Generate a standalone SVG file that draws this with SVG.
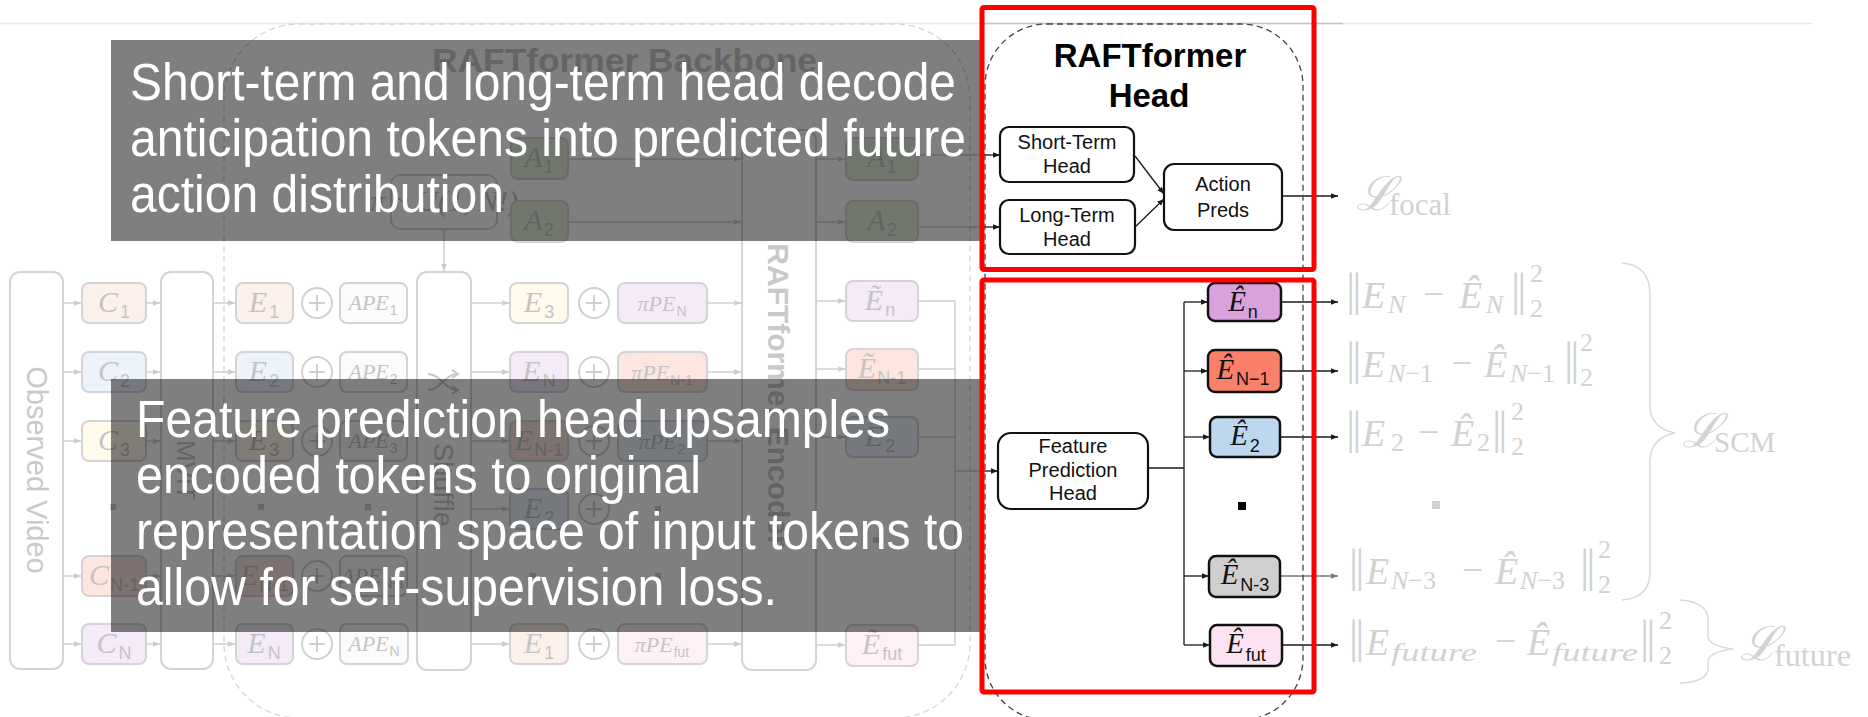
<svg xmlns="http://www.w3.org/2000/svg" width="1868" height="717" viewBox="0 0 1868 717">
  <style>
    .fb { stroke: #d4d4d4; stroke-width: 2; }
    .pe { fill: #fcf1ea; } .bl { fill: #edf3fa; } .ye { fill: #fffaea; }
    .rd { fill: #fde5e0; } .pu { fill: #f5ebf8; } .pk { fill: #fdf1f6; }
    .gr { fill: #e3eedb; } .wh { fill: #fbfbfb; }
    .ft { font-family: "Liberation Sans", Arial, sans-serif; fill: #c9c9c9; }
    .lab { text-anchor: middle; }
    .mi { font-family: "Liberation Serif", "DejaVu Serif", serif; font-style: italic; font-size: 30px; fill: #c4c4c4; }
    .sb { font-family: "Liberation Sans", Arial, sans-serif; font-size: 18px; fill: #c4c4c4; }
    .mis { font-family: "Liberation Serif", serif; font-style: italic; font-size: 22px; fill: #c4c4c4; }
    .sbs { font-family: "Liberation Sans", Arial, sans-serif; font-size: 14px; fill: #c4c4c4; }
    .fl { stroke: #d0d0d0; stroke-width: 1.5; fill: none; }
    .dl { stroke: #1a1a1a; stroke-width: 1.3; fill: none; }
    .plus circle { fill: #fff; stroke: #d0d0d0; stroke-width: 2; }
    .plus path { stroke: #d0d0d0; stroke-width: 2; fill: none; }
    .dot { fill: #cccccc; }
    .hb { fill: #fff; stroke: #111; stroke-width: 2.2; }
    .eb { stroke: #111; stroke-width: 2.5; }
    .ht { font-family: "Liberation Sans", Arial, sans-serif; font-size: 20px; fill: #111; text-anchor: middle; }
    .hm { font-family: "Liberation Serif", "DejaVu Serif", serif; font-style: italic; font-size: 29px; fill: #111; }
    .hs { font-family: "Liberation Sans", Arial, sans-serif; font-size: 18px; fill: #111; }
    .loss { font-family: "Liberation Serif", "DejaVu Serif", serif; fill: #d2d2d2; font-size: 38px; }
    .li { font-style: italic; }
    .ls { font-size: 26px; }
    .bar { font-size: 46px; letter-spacing: -3px; font-style: normal; }
    .cal { fill: #000; fill-opacity: 0.5; }
    .calt { font-family: "Liberation Sans", Arial, sans-serif; font-size: 51px; fill: #fff; }
    .hl { fill: none; stroke: #ff0000; stroke-width: 5; }
  </style>
  <defs>
    <marker id="ah" viewBox="0 0 10 10" refX="10" refY="5" markerWidth="7" markerHeight="7" markerUnits="userSpaceOnUse" orient="auto">
      <path d="M0,1 L10,5 L0,9 z" fill="#1a1a1a"/>
    </marker>
    <marker id="ahf" viewBox="0 0 10 10" refX="10" refY="5" markerWidth="7" markerHeight="7" markerUnits="userSpaceOnUse" orient="auto">
      <path d="M0,1 L10,5 L0,9 z" fill="#cccccc"/>
    </marker>
    <marker id="ahg" viewBox="0 0 10 10" refX="10" refY="5" markerWidth="7" markerHeight="7" markerUnits="userSpaceOnUse" orient="auto">
      <path d="M0,1 L10,5 L0,9 z" fill="#777"/>
    </marker>
  </defs>

  <rect width="1868" height="717" fill="#fff"/>
  <!-- page rule -->
  <line x1="0" y1="23.5" x2="1813" y2="23.5" stroke="#e8e8e8" stroke-width="1.5"/>
  <line x1="980" y1="23.5" x2="1343" y2="23.5" stroke="#c4c4c4" stroke-width="1.5"/>

  <!-- ===== backbone (faded) ===== -->
  <g id="backbone-frame">
    <rect x="224" y="24" width="746" height="694" rx="75" fill="none" stroke="#d6d6d6" stroke-width="1.3" stroke-dasharray="6 4"/>
    <text class="ft" x="432" y="72" font-size="33" font-weight="bold" fill="#b5b5b5" textLength="385" lengthAdjust="spacingAndGlyphs">RAFTformer Backbone</text>
  </g>

  <g id="observed-video">
    <rect class="fb" fill="#fff" x="10" y="272" width="53" height="397" rx="10"/>
    <text class="ft" font-size="29" text-anchor="middle" transform="translate(27,470) rotate(90)">Observed Video</text>
  </g>

  <g id="c1"><rect class="fb pe" x="82" y="283" width="64" height="40" rx="7"/><text class="lab" x="114" y="312"><tspan class="mi">C</tspan><tspan class="sb" dx="2" dy="6">1</tspan></text></g>
  <g id="c2"><rect class="fb bl" x="82" y="352" width="64" height="40" rx="7"/><text class="lab" x="114" y="381"><tspan class="mi">C</tspan><tspan class="sb" dx="2" dy="6">2</tspan></text></g>
  <g id="c3"><rect class="fb ye" x="82" y="421" width="64" height="40" rx="7"/><text class="lab" x="114" y="450"><tspan class="mi">C</tspan><tspan class="sb" dx="2" dy="6">3</tspan></text></g>
  <rect class="dot" x="110" y="504" width="6" height="6"/>
  <g id="c-n1"><rect class="fb rd" x="82" y="556" width="64" height="40" rx="7"/><text class="lab" x="114" y="585"><tspan class="mi">C</tspan><tspan class="sb" dx="1" dy="6">N-1</tspan></text></g>
  <g id="c-n"><rect class="fb pu" x="82" y="624" width="64" height="40" rx="7"/><text class="lab" x="114" y="653"><tspan class="mi">C</tspan><tspan class="sb" dx="2" dy="6">N</tspan></text></g>

  <g id="mvit">
    <rect class="fb" fill="#fff" x="161" y="272" width="52" height="397" rx="10"/>
    <text class="ft" font-size="26" text-anchor="middle" transform="translate(177,470) rotate(90)">MViT</text>
  </g>

  <!-- input tokens with absolute position embeddings -->
  <g id="e1"><rect class="fb pe" x="236" y="283" width="57" height="40" rx="7"/><text class="lab" x="264" y="312"><tspan class="mi">E</tspan><tspan class="sb" dx="2" dy="6">1</tspan></text></g>
  <g id="e2"><rect class="fb bl" x="236" y="352" width="57" height="40" rx="7"/><text class="lab" x="264" y="381"><tspan class="mi">E</tspan><tspan class="sb" dx="2" dy="6">2</tspan></text></g>
  <g id="e3"><rect class="fb ye" x="236" y="421" width="57" height="40" rx="7"/><text class="lab" x="264" y="450"><tspan class="mi">E</tspan><tspan class="sb" dx="2" dy="6">3</tspan></text></g>
  <rect class="dot" x="258" y="504" width="6" height="6"/>
  <g id="e-n1"><rect class="fb rd" x="236" y="556" width="57" height="40" rx="7"/><text class="lab" x="264" y="585"><tspan class="mi">E</tspan><tspan class="sb" dx="1" dy="6">N-1</tspan></text></g>
  <g id="e-n"><rect class="fb pu" x="236" y="624" width="57" height="40" rx="7"/><text class="lab" x="264" y="653"><tspan class="mi">E</tspan><tspan class="sb" dx="2" dy="6">N</tspan></text></g>

  <g class="plus"><circle cx="317" cy="303" r="15"/><path d="M309,303h16M317,295v16"/></g>
  <g class="plus"><circle cx="317" cy="372" r="15"/><path d="M309,372h16M317,364v16"/></g>
  <g class="plus"><circle cx="317" cy="441" r="15"/><path d="M309,441h16M317,433v16"/></g>
  <g class="plus"><circle cx="317" cy="576" r="15"/><path d="M309,576h16M317,568v16"/></g>
  <g class="plus"><circle cx="317" cy="644" r="15"/><path d="M309,644h16M317,636v16"/></g>

  <g id="ape1"><rect class="fb wh" x="340" y="283" width="67" height="40" rx="7"/><text class="lab" x="373" y="310"><tspan class="mis">APE</tspan><tspan class="sbs" dx="1" dy="5">1</tspan></text></g>
  <g id="ape2"><rect class="fb wh" x="340" y="352" width="67" height="40" rx="7"/><text class="lab" x="373" y="379"><tspan class="mis">APE</tspan><tspan class="sbs" dx="1" dy="5">2</tspan></text></g>
  <g id="ape3"><rect class="fb wh" x="340" y="421" width="67" height="40" rx="7"/><text class="lab" x="373" y="448"><tspan class="mis">APE</tspan><tspan class="sbs" dx="1" dy="5">3</tspan></text></g>
  <rect class="dot" x="365" y="504" width="6" height="6"/>
  <g id="ape-n1"><rect class="fb wh" x="340" y="556" width="67" height="40" rx="7"/><text class="lab" x="373" y="583"><tspan class="mis">APE</tspan><tspan class="sbs" dx="1" dy="5">N-1</tspan></text></g>
  <g id="ape-n"><rect class="fb wh" x="340" y="624" width="68" height="40" rx="7"/><text class="lab" x="374" y="651"><tspan class="mis">APE</tspan><tspan class="sbs" dx="1" dy="5">N</tspan></text></g>

  <g id="perm">
    <rect class="fb" fill="#fff" x="391" y="175" width="106" height="54" rx="9"/>
    <text class="lab" x="444" y="211"><tspan class="mi" font-size="26">π</tspan><tspan class="mi" font-size="26"> ~ U(1, N!)</tspan></text>
  </g>

  <g id="shuffle">
    <rect class="fb" fill="#fff" x="417" y="272" width="54" height="398" rx="10"/>
    <path d="M428,374 C440,374 446,390 456,390 M428,390 C440,390 446,374 456,374" fill="none" stroke="#c8c8c8" stroke-width="2"/>
    <path d="M452,370 L458,374 L452,378 M452,386 L458,390 L452,394" fill="none" stroke="#c8c8c8" stroke-width="2"/>
    <text class="ft" font-size="27" text-anchor="middle" transform="translate(434,485) rotate(90)">Shuffle</text>
  </g>

  <!-- anticipation tokens fed to the encoder -->
  <g id="a1-in"><rect class="fb gr" x="511" y="138" width="57" height="41" rx="7"/><text class="lab" x="539" y="167"><tspan class="mi">A</tspan><tspan class="sb" dx="1" dy="6">1</tspan></text></g>
  <g id="a2-in"><rect class="fb gr" x="511" y="201" width="57" height="41" rx="7"/><text class="lab" x="539" y="230"><tspan class="mi">A</tspan><tspan class="sb" dx="1" dy="6">2</tspan></text></g>

  <!-- shuffled tokens with permuted position embeddings -->
  <g id="s-e3"><rect class="fb ye" x="510" y="283" width="58" height="40" rx="7"/><text class="lab" x="539" y="312"><tspan class="mi">E</tspan><tspan class="sb" dx="2" dy="6">3</tspan></text></g>
  <g id="s-en"><rect class="fb pu" x="510" y="352" width="58" height="40" rx="7"/><text class="lab" x="539" y="381"><tspan class="mi">E</tspan><tspan class="sb" dx="2" dy="6">N</tspan></text></g>
  <g id="s-en1"><rect class="fb rd" x="510" y="421" width="58" height="40" rx="7"/><text class="lab" x="539" y="450"><tspan class="mi">E</tspan><tspan class="sb" dx="1" dy="6">N-1</tspan></text></g>
  <g id="s-e2"><rect class="fb bl" x="510" y="489" width="58" height="40" rx="7"/><text class="lab" x="539" y="518"><tspan class="mi">E</tspan><tspan class="sb" dx="2" dy="6">2</tspan></text></g>
  <rect class="dot" x="530" y="573" width="6" height="6"/>
  <g id="s-e1"><rect class="fb pe" x="510" y="624" width="58" height="40" rx="7"/><text class="lab" x="539" y="653"><tspan class="mi">E</tspan><tspan class="sb" dx="2" dy="6">1</tspan></text></g>

  <g class="plus"><circle cx="594" cy="303" r="15"/><path d="M586,303h16M594,295v16"/></g>
  <g class="plus"><circle cx="594" cy="372" r="15"/><path d="M586,372h16M594,364v16"/></g>
  <g class="plus"><circle cx="594" cy="441" r="15"/><path d="M586,441h16M594,433v16"/></g>
  <g class="plus"><circle cx="594" cy="509" r="15"/><path d="M586,509h16M594,501v16"/></g>
  <g class="plus"><circle cx="594" cy="644" r="15"/><path d="M586,644h16M594,636v16"/></g>

  <g id="ppe-n"><rect class="fb pu" x="618" y="283" width="89" height="40" rx="7"/><text class="lab" x="662" y="311"><tspan class="mis" font-size="25">πPE</tspan><tspan class="sbs" font-size="16" dx="1" dy="5">N</tspan></text></g>
  <g id="ppe-n1"><rect class="fb rd" x="618" y="352" width="89" height="40" rx="7"/><text class="lab" x="662" y="380"><tspan class="mis" font-size="25">πPE</tspan><tspan class="sbs" font-size="16" dx="1" dy="5">N-1</tspan></text></g>
  <g id="ppe-2"><rect class="fb bl" x="618" y="421" width="89" height="40" rx="7"/><text class="lab" x="662" y="449"><tspan class="mis" font-size="25">πPE</tspan><tspan class="sbs" font-size="16" dx="1" dy="5">2</tspan></text></g>
  <rect class="dot" x="655" y="506" width="6" height="6"/>
  <rect class="dot" x="655" y="573" width="6" height="6"/>
  <g id="ppe-fut"><rect class="fb pk" x="618" y="624" width="89" height="40" rx="7"/><text class="lab" x="662" y="652"><tspan class="mis" font-size="25">πPE</tspan><tspan class="sbs" font-size="16" dx="1" dy="5">fut</tspan></text></g>

  <g id="encoder">
    <rect class="fb" fill="#fff" x="742" y="130" width="74" height="540" rx="10"/>
    <text class="ft" font-size="30" font-weight="bold" text-anchor="middle" transform="translate(768,395) rotate(90)">RAFTformer Encoder</text>
  </g>

  <!-- encoder outputs -->
  <g id="a1-out"><rect class="fb gr" x="846" y="138" width="72" height="42" rx="7"/><text class="lab" x="882" y="167"><tspan class="mi">A</tspan><tspan class="sb" dx="1" dy="6">1</tspan></text></g>
  <g id="a2-out"><rect class="fb gr" x="846" y="201" width="72" height="41" rx="7"/><text class="lab" x="882" y="230"><tspan class="mi">A</tspan><tspan class="sb" dx="1" dy="6">2</tspan></text></g>
  <g id="et-n"><rect class="fb pu" x="846" y="281" width="72" height="40" rx="7"/><text class="lab" x="880" y="310"><tspan class="mi">Ẽ</tspan><tspan class="sb" dx="2" dy="6">n</tspan></text></g>
  <g id="et-n1"><rect class="fb rd" x="846" y="349" width="72" height="41" rx="7"/><text class="lab" x="882" y="378"><tspan class="mi">Ẽ</tspan><tspan class="sb" dx="1" dy="6">N-1</tspan></text></g>
  <g id="et-2"><rect class="fb bl" x="846" y="417" width="72" height="40" rx="7"/><text class="lab" x="880" y="446"><tspan class="mi">Ẽ</tspan><tspan class="sb" dx="2" dy="6">2</tspan></text></g>
  <rect class="dot" x="873" y="537" width="6" height="6"/>
  <g id="et-fut"><rect class="fb pk" x="846" y="625" width="72" height="41" rx="7"/><text class="lab" x="882" y="654"><tspan class="mi">Ẽ</tspan><tspan class="sb" dx="2" dy="6">fut</tspan></text></g>

  <!-- ===== connectors ===== -->
  <g id="connectors">
    <g class="fl" marker-end="url(#ahf)">
      <path d="M63,303H81"/><path d="M63,372H81"/><path d="M63,441H81"/><path d="M63,576H81"/><path d="M63,644H81"/>
      <path d="M146,303H160"/><path d="M146,372H160"/><path d="M146,441H160"/><path d="M146,576H160"/><path d="M146,644H160"/>
      <path d="M213,303H235"/><path d="M213,372H235"/><path d="M213,441H235"/><path d="M213,576H235"/><path d="M213,644H235"/>
      <path d="M444,229V271"/>
      <path d="M471,303H509"/><path d="M471,372H509"/><path d="M471,441H509"/><path d="M471,509H509"/><path d="M471,644H509"/>
      <path d="M568,159H741"/><path d="M568,222H741"/>
      <path d="M707,303H741"/><path d="M707,372H741"/><path d="M707,441H741"/><path d="M707,644H741"/>
      <path d="M816,159H845"/><path d="M816,222H845"/>
      <path d="M816,301H845"/><path d="M816,369H845"/><path d="M816,437H845"/><path d="M816,645H845"/>
    </g>
    <g class="fl">
      <path d="M918,301H955M918,369H955M918,437H955M918,645H955M955,301V645M955,471H980"/>
      <path d="M918,155H980M918,227H980"/>
    </g>
    <g class="dl" marker-end="url(#ah)">
      <path d="M980,155H1000"/><path d="M980,227H1000"/><path d="M980,471H998"/>
      <path d="M1135,156L1164,194"/><path d="M1135,227L1164,199"/>
      <path d="M1282,196H1338"/>
      <path d="M1184,302H1208"/><path d="M1184,371H1208"/><path d="M1184,437H1210"/><path d="M1184,576H1209"/><path d="M1184,645H1210"/>
      <path d="M1281,302H1338"/><path d="M1281,371H1338"/><path d="M1280,437H1338"/><path d="M1282,645H1338"/>
    </g>
    <path class="dl" d="M1148,468H1184M1184,302V645"/>
    <path d="M1280,576H1338" stroke="#777" stroke-width="1.3" fill="none" marker-end="url(#ahg)"/>
  </g>

  <!-- ===== head ===== -->
  <g id="head-frame">
    <rect x="985" y="24" width="318" height="696" rx="62" fill="none" stroke="#444" stroke-width="1.3" stroke-dasharray="6 4"/>
    <text x="1150" y="67" font-family="Liberation Sans, Arial, sans-serif" font-size="33" font-weight="bold" text-anchor="middle" fill="#000">RAFTformer</text>
    <text x="1149" y="107" font-family="Liberation Sans, Arial, sans-serif" font-size="33" font-weight="bold" text-anchor="middle" fill="#000">Head</text>
  </g>
  <g id="short-term-head">
    <rect class="hb" x="1000" y="127" width="134" height="55" rx="9"/>
    <text class="ht" x="1067" y="149">Short-Term</text><text class="ht" x="1067" y="173">Head</text>
  </g>
  <g id="long-term-head">
    <rect class="hb" x="1000" y="200" width="135" height="54" rx="9"/>
    <text class="ht" x="1067" y="222">Long-Term</text><text class="ht" x="1067" y="246">Head</text>
  </g>
  <g id="action-preds">
    <rect class="hb" x="1164" y="164" width="118" height="66" rx="10"/>
    <text class="ht" x="1223" y="191" font-size="21">Action</text><text class="ht" x="1223" y="217" font-size="21">Preds</text>
  </g>
  <g id="feature-prediction-head">
    <rect class="hb" x="998" y="433" width="150" height="76" rx="13"/>
    <text class="ht" x="1073" y="453">Feature</text><text class="ht" x="1073" y="477">Prediction</text><text class="ht" x="1073" y="500">Head</text>
  </g>
  <g id="eh-n"><rect class="eb" fill="#d9a2dd" x="1208" y="283" width="73" height="38" rx="7"/><text class="lab" x="1243" y="311"><tspan class="hm">Ê</tspan><tspan class="hs" dx="2" dy="7">n</tspan></text></g>
  <g id="eh-n1"><rect class="eb" fill="#fb806a" x="1208" y="350" width="73" height="42" rx="7"/><text class="lab" x="1243" y="379"><tspan class="hm">Ê</tspan><tspan class="hs" font-size="17" dx="2" dy="6">N−1</tspan></text></g>
  <g id="eh-2"><rect class="eb" fill="#bdd7ee" x="1210" y="417" width="70" height="40" rx="7"/><text class="lab" x="1245" y="445"><tspan class="hm">Ê</tspan><tspan class="hs" dx="2" dy="7">2</tspan></text></g>
  <rect x="1238" y="502" width="8" height="8" fill="#000"/>
  <g id="eh-n3"><rect class="eb" fill="#d0cece" x="1209" y="556" width="71" height="41" rx="7"/><text class="lab" x="1245" y="584"><tspan class="hm">Ê</tspan><tspan class="hs" font-size="17" dx="2" dy="7">N-3</tspan></text></g>
  <g id="eh-fut"><rect class="eb" fill="#fde3f1" x="1210" y="625" width="72" height="41" rx="7"/><text class="lab" x="1246" y="653"><tspan class="hm">Ê</tspan><tspan class="hs" dx="2" dy="8">fut</tspan></text></g>

  <!-- ===== losses ===== -->
  <g id="loss-focal" class="loss">
    <text x="1356" y="210" font-size="47" font-style="italic">ℒ</text>
    <text x="1389" y="215" font-size="31">focal</text>
  </g>
  <g id="loss-terms" class="loss">
    <text y="305"><tspan class="bar" x="1346">||</tspan><tspan class="li" x="1362" y="308">E</tspan><tspan class="li ls" x="1388" y="313">N</tspan><tspan x="1423" y="307">−</tspan><tspan class="li" x="1459" y="308">Ê</tspan><tspan class="li ls" x="1486" y="313">N</tspan><tspan class="bar" x="1511" y="305">||</tspan><tspan class="ls" x="1530" y="282">2</tspan><tspan class="ls" x="1530" y="317">2</tspan></text>
    <text y="374"><tspan class="bar" x="1346">||</tspan><tspan class="li" x="1362" y="377">E</tspan><tspan class="ls" x="1388" y="382"><tspan class="li">N</tspan>−1</tspan><tspan x="1451" y="376">−</tspan><tspan class="li" x="1484" y="377">Ê</tspan><tspan class="ls" x="1510" y="382"><tspan class="li">N</tspan>−1</tspan><tspan class="bar" x="1564" y="374">||</tspan><tspan class="ls" x="1580" y="351">2</tspan><tspan class="ls" x="1580" y="386">2</tspan></text>
    <text y="443"><tspan class="bar" x="1346">||</tspan><tspan class="li" x="1362" y="446">E</tspan><tspan class="ls" x="1391" y="451">2</tspan><tspan x="1418" y="445">−</tspan><tspan class="li" x="1451" y="446">Ê</tspan><tspan class="ls" x="1477" y="451">2</tspan><tspan class="bar" x="1492" y="443">||</tspan><tspan class="ls" x="1511" y="420">2</tspan><tspan class="ls" x="1511" y="455">2</tspan></text>
    <rect x="1432" y="501" width="8" height="8" fill="#d2d2d2"/>
    <text y="581"><tspan class="bar" x="1349">||</tspan><tspan class="li" x="1366" y="584">E</tspan><tspan class="ls" x="1391" y="589"><tspan class="li">N</tspan>−3</tspan><tspan x="1462" y="583">−</tspan><tspan class="li" x="1495" y="584">Ê</tspan><tspan class="ls" x="1520" y="589"><tspan class="li">N</tspan>−3</tspan><tspan class="bar" x="1580" y="581">||</tspan><tspan class="ls" x="1598" y="558">2</tspan><tspan class="ls" x="1598" y="593">2</tspan></text>
    <text y="652"><tspan class="bar" x="1349">||</tspan><tspan class="li" x="1366" y="655">E</tspan><tspan x="1495" y="654">−</tspan><tspan class="li" x="1527" y="655">Ê</tspan><tspan class="bar" x="1640" y="652">||</tspan><tspan class="ls" x="1659" y="629">2</tspan><tspan class="ls" x="1659" y="664">2</tspan></text>
    <text class="li ls" x="1391" y="661" textLength="86" lengthAdjust="spacingAndGlyphs">future</text>
    <text class="li ls" x="1552" y="661" textLength="86" lengthAdjust="spacingAndGlyphs">future</text>
  </g>
  <g id="loss-braces" fill="none" stroke="#d9d9d9" stroke-width="1.5">
    <path d="M1622,263 Q1650,265 1650,295 L1650,405 Q1650,428 1675,433 Q1650,438 1650,462 L1650,572 Q1650,598 1622,600"/>
    <path d="M1680,600 Q1708,602 1708,620 L1708,636 Q1708,646 1733,649 Q1708,652 1708,662 L1708,668 Q1708,682 1680,683"/>
  </g>
  <g id="loss-scm" class="loss">
    <text x="1682" y="447" font-size="47" font-style="italic">ℒ</text>
    <text x="1714" y="452" font-size="29">SCM</text>
  </g>
  <g id="loss-future" class="loss">
    <text x="1740" y="660" font-size="47" font-style="italic">ℒ</text>
    <text x="1774" y="666" font-size="31" textLength="77" lengthAdjust="spacingAndGlyphs">future</text>
  </g>

  <!-- ===== callouts ===== -->
  <g id="callout-heads">
    <rect class="cal" x="111" y="40" width="869" height="201"/>
    <text class="calt" x="130" y="100" textLength="826" lengthAdjust="spacingAndGlyphs">Short-term and long-term head decode</text>
    <text class="calt" x="130" y="155.5" textLength="836" lengthAdjust="spacingAndGlyphs">anticipation tokens into predicted future</text>
    <text class="calt" x="130" y="211.5" textLength="374" lengthAdjust="spacingAndGlyphs">action distribution</text>
  </g>
  <g id="callout-features">
    <rect class="cal" x="111" y="379" width="869" height="253"/>
    <text class="calt" x="136" y="437" textLength="754" lengthAdjust="spacingAndGlyphs">Feature prediction head upsamples</text>
    <text class="calt" x="136" y="493" textLength="565" lengthAdjust="spacingAndGlyphs">encoded tokens to original</text>
    <text class="calt" x="136" y="549" textLength="828" lengthAdjust="spacingAndGlyphs">representation space of input tokens to</text>
    <text class="calt" x="136" y="605" textLength="641" lengthAdjust="spacingAndGlyphs">allow for self-supervision loss.</text>
  </g>

  <!-- highlight frames -->
  <rect class="hl" x="982" y="7.5" width="332" height="262" rx="2"/>
  <rect class="hl" x="982" y="280" width="332" height="412" rx="2"/>
</svg>
